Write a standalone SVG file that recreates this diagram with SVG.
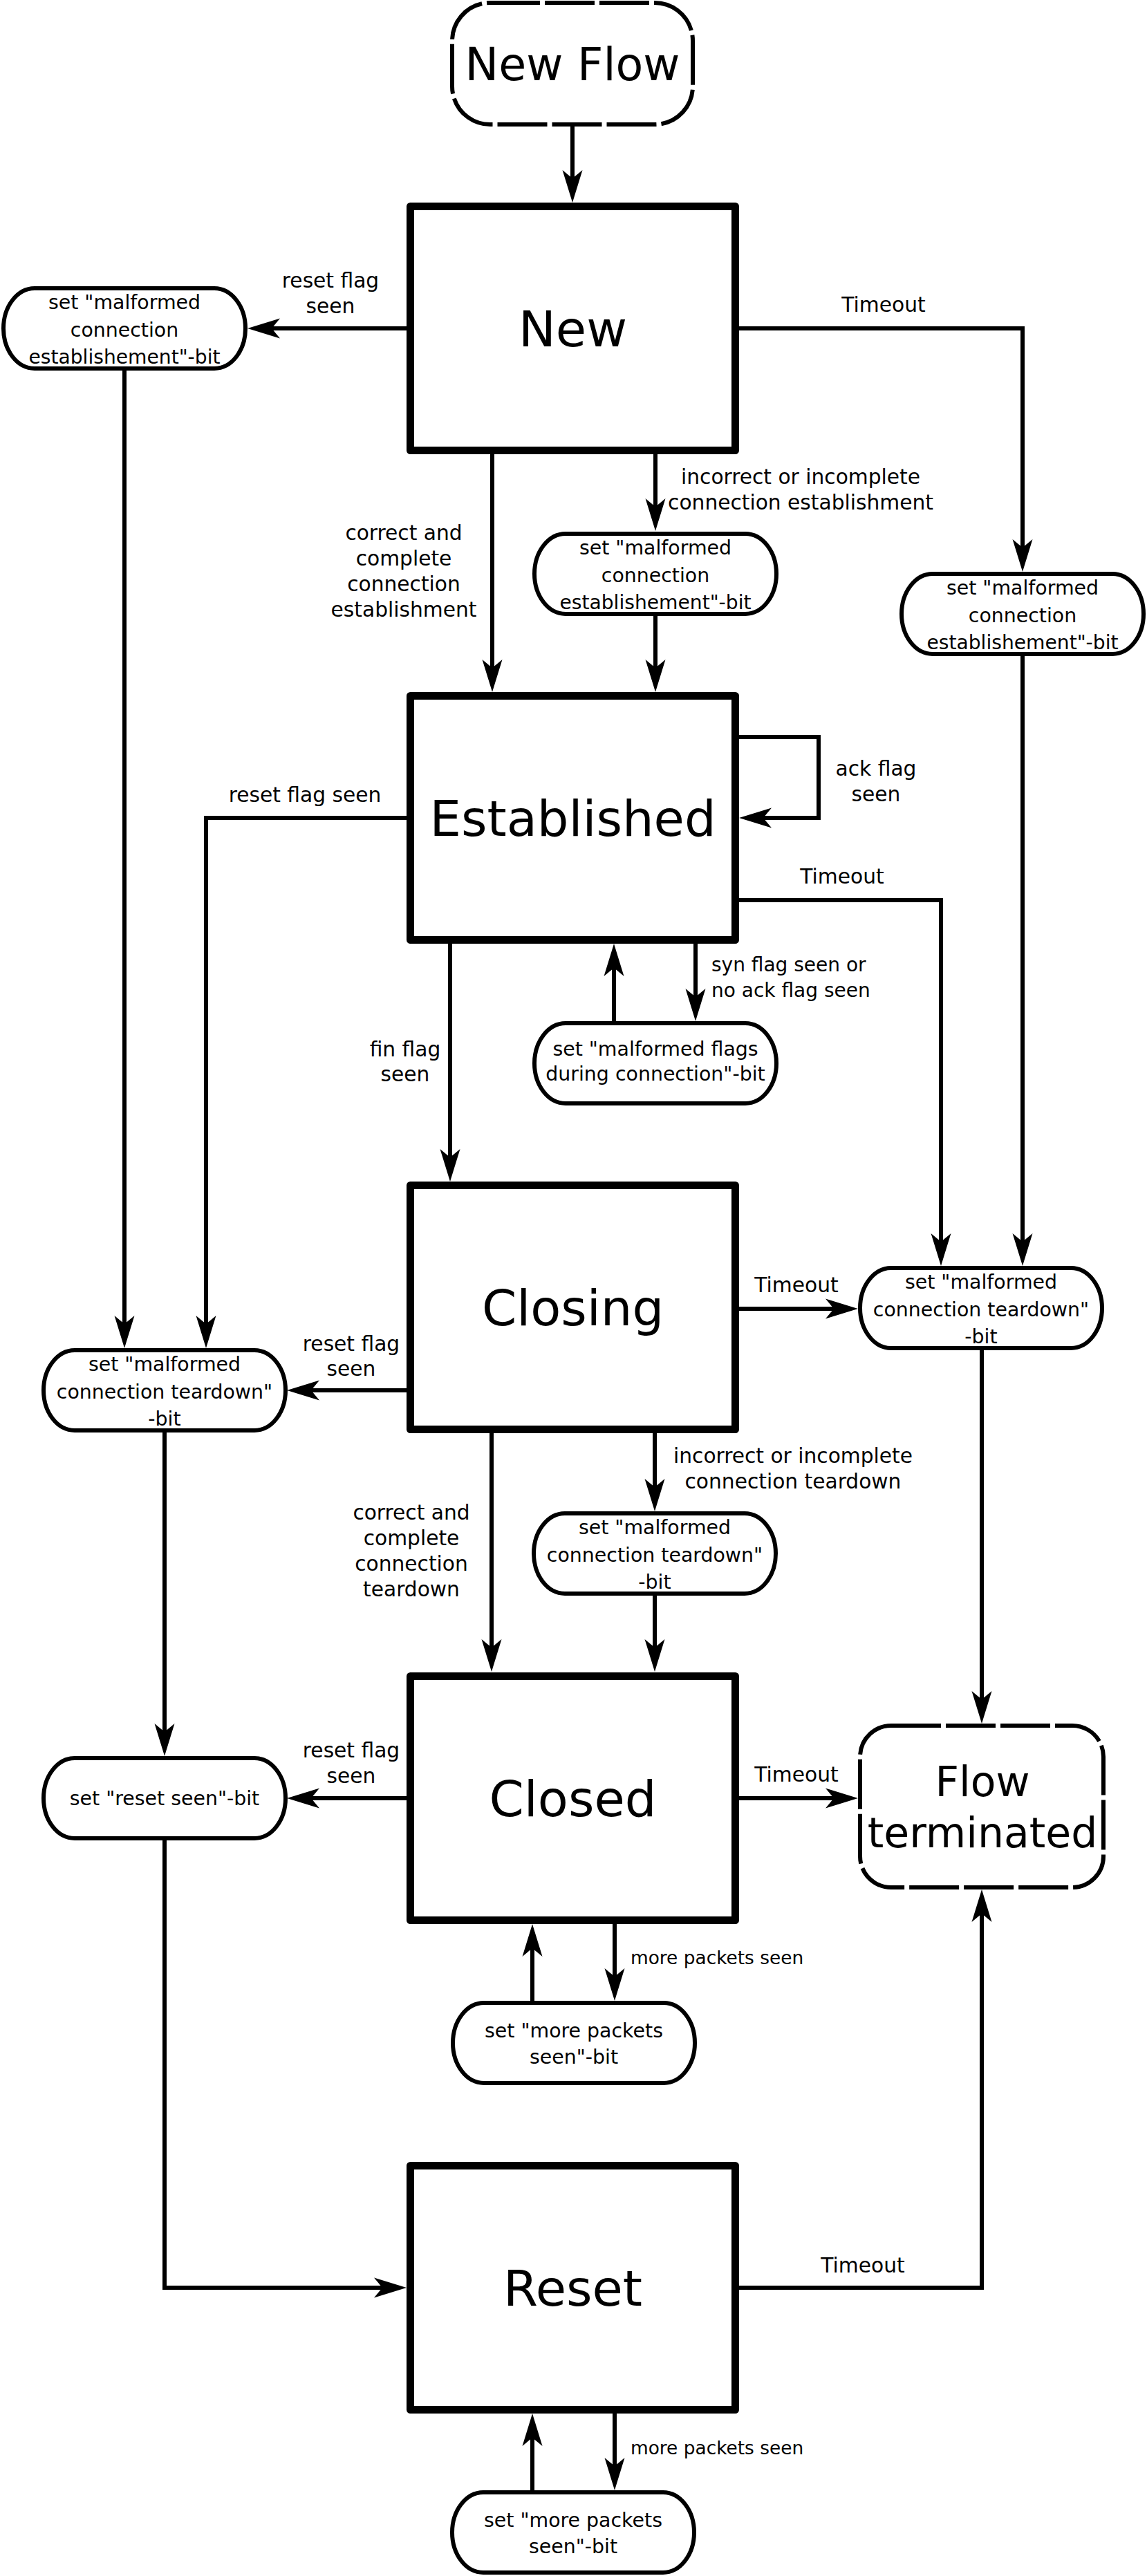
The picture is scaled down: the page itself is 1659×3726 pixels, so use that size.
<svg xmlns="http://www.w3.org/2000/svg" width="1659" height="3726" viewBox="0 0 1659 3726">
<style>
.st{fill:#fff;stroke:#000;stroke-width:11;stroke-linejoin:round}
.sn{fill:#fff;stroke:#000;stroke-width:6}
.term{fill:#fff;stroke:#000;stroke-width:6;stroke-dasharray:72 7}
.c{fill:none;stroke:#000;stroke-width:6;marker-end:url(#ah)}
.cn{fill:none;stroke:#000;stroke-width:6}
text{font-family:"DejaVu Sans","Liberation Sans",sans-serif;fill:#000}
.big{font-size:72px;text-anchor:middle}
.tn{text-anchor:middle}
.nt{font-size:28.4px;text-anchor:middle}
.lb{font-size:29.7px;text-anchor:middle}
.ls{font-size:28px}
.lm{font-size:26.4px}
</style>
<defs>
<marker id="ah" markerUnits="userSpaceOnUse" viewBox="0 -15 48 30" markerWidth="48" markerHeight="30" refX="12" refY="0" orient="auto">
<path d="M47,0 L0,-14.5 L12,0 L0,14.5 Z" fill="#000"/>
</marker>
</defs>
<rect width="1659" height="3726" fill="#fff"/>
<g id="connectors">
<path class="c" d="M828,180 V258"/>
<path class="c" d="M588,475 H393"/>
<path class="c" d="M1069,475 H1479 V792"/>
<path class="c" d="M712,657 V966"/>
<path class="c" d="M948,657 V733"/>
<path class="c" d="M948,890 V966"/>
<path class="c" d="M180,536 V1915"/>
<path class="c" d="M1069,1066 H1184 V1183 H1104"/>
<path class="c" d="M588,1183 H298 V1915"/>
<path class="c" d="M1069,1302 H1361 V1796"/>
<path class="c" d="M1479,949 V1796"/>
<path class="c" d="M651,1365 V1674"/>
<path class="c" d="M888,1477 V1400"/>
<path class="c" d="M1006,1365 V1442"/>
<path class="c" d="M1069,1893 H1206"/>
<path class="c" d="M588,2011 H450"/>
<path class="c" d="M711,2073 V2383"/>
<path class="c" d="M947,2073 V2151"/>
<path class="c" d="M947,2308 V2383"/>
<path class="c" d="M1420,1953 V2458"/>
<path class="c" d="M238,2072 V2505"/>
<path class="c" d="M588,2601 H450"/>
<path class="c" d="M1069,2601 H1206"/>
<path class="c" d="M770,2894 V2818"/>
<path class="c" d="M889,2783 V2859"/>
<path class="c" d="M238,2662 V3309 H553"/>
<path class="c" d="M1069,3309 H1420 V2768"/>
<path class="c" d="M770,3602 V3526"/>
<path class="c" d="M889,3491 V3567"/>
</g>
<g id="labels">
<text class="lb" x="478" y="416">reset flag</text>
<text class="lb" x="478" y="453">seen</text>
<text class="lb" x="1278" y="451">Timeout</text>
<text class="lb" x="1158" y="700">incorrect or incomplete</text>
<text class="lb" x="1158" y="737">connection establishment</text>
<text class="lb" x="584" y="781">correct and</text>
<text class="lb" x="584" y="818">complete</text>
<text class="lb" x="584" y="855">connection</text>
<text class="lb" x="584" y="892">establishment</text>
<text class="lb" x="1267" y="1122">ack flag</text>
<text class="lb" x="1267" y="1159">seen</text>
<text class="lb" x="441" y="1160">reset flag seen</text>
<text class="lb" x="1218" y="1278">Timeout</text>
<text class="ls" x="1029" y="1405">syn flag seen or</text>
<text class="ls" x="1029" y="1442">no ack flag seen</text>
<text class="lb" x="586" y="1528">fin flag</text>
<text class="lb" x="586" y="1564">seen</text>
<text class="lb" x="1152" y="1869">Timeout</text>
<text class="lb" x="508" y="1954">reset flag</text>
<text class="lb" x="508" y="1990">seen</text>
<text class="lb" x="1147" y="2116">incorrect or incomplete</text>
<text class="lb" x="1147" y="2153">connection teardown</text>
<text class="lb" x="595" y="2198">correct and</text>
<text class="lb" x="595" y="2235">complete</text>
<text class="lb" x="595" y="2272">connection</text>
<text class="lb" x="595" y="2309">teardown</text>
<text class="lb" x="508" y="2542">reset flag</text>
<text class="lb" x="508" y="2579">seen</text>
<text class="lb" x="1152" y="2577">Timeout</text>
<text class="lm" x="912" y="2841">more packets seen</text>
<text class="lb" x="1248" y="3287">Timeout</text>
<text class="lm" x="912" y="3550">more packets seen</text>
</g>
<g id="node-newflow">
<rect class="term" x="654" y="4" width="348" height="176" rx="55" ry="55"/>
<text class="tn" x="828" y="116" font-size="65">New Flow</text>
</g>
<g id="node-new">
<rect class="st" x="593.5" y="298.5" width="470" height="353"/>
<text class="big" x="828.5" y="501">New</text>
</g>
<g id="node-established">
<rect class="st" x="593.5" y="1006.5" width="470" height="353"/>
<text class="big" x="828.5" y="1209">Established</text>
</g>
<g id="node-closing">
<rect class="st" x="593.5" y="1714.5" width="470" height="353"/>
<text class="big" x="828.5" y="1917">Closing</text>
</g>
<g id="node-closed">
<rect class="st" x="593.5" y="2424.5" width="470" height="353"/>
<text class="big" x="828.5" y="2627">Closed</text>
</g>
<g id="node-reset">
<rect class="st" x="593.5" y="3132.5" width="470" height="353"/>
<text class="big" x="828.5" y="3335">Reset</text>
</g>
<g id="node-flowterminated">
<rect class="term" x="1244" y="2496" width="352" height="234" rx="45" ry="45"/>
<text class="tn" x="1421" y="2598" font-size="60">Flow</text>
<text class="tn" x="1421" y="2672" font-size="60">terminated</text>
</g>
<g id="node-mce-left">
<rect class="sn" x="5" y="417" width="350" height="116" rx="45" ry="58"/>
<text class="nt" x="180" y="447">set "malformed</text>
<text class="nt" x="180" y="487">connection</text>
<text class="nt" x="180" y="526" textLength="277" lengthAdjust="spacingAndGlyphs">establishement"-bit</text>
</g>
<g id="node-mce-mid">
<rect class="sn" x="773" y="772" width="350" height="116" rx="45" ry="58"/>
<text class="nt" x="948" y="802">set "malformed</text>
<text class="nt" x="948" y="842">connection</text>
<text class="nt" x="948" y="881" textLength="277" lengthAdjust="spacingAndGlyphs">establishement"-bit</text>
</g>
<g id="node-mce-right">
<rect class="sn" x="1304" y="830" width="350" height="116" rx="45" ry="58"/>
<text class="nt" x="1479" y="860">set "malformed</text>
<text class="nt" x="1479" y="900">connection</text>
<text class="nt" x="1479" y="939" textLength="277" lengthAdjust="spacingAndGlyphs">establishement"-bit</text>
</g>
<g id="node-mflags">
<rect class="sn" x="773" y="1480" width="350" height="116" rx="45" ry="58"/>
<text class="nt" x="948" y="1527">set "malformed flags</text>
<text class="nt" x="948" y="1563">during connection"-bit</text>
</g>
<g id="node-mct-right">
<rect class="sn" x="1244" y="1834" width="350" height="116" rx="45" ry="58"/>
<text class="nt" x="1419" y="1864">set "malformed</text>
<text class="nt" x="1419" y="1904">connection teardown"</text>
<text class="nt" x="1419" y="1943">-bit</text>
</g>
<g id="node-mct-left">
<rect class="sn" x="63" y="1953" width="350" height="116" rx="45" ry="58"/>
<text class="nt" x="238" y="1983">set "malformed</text>
<text class="nt" x="238" y="2023">connection teardown"</text>
<text class="nt" x="238" y="2062">-bit</text>
</g>
<g id="node-mct-mid">
<rect class="sn" x="772" y="2189" width="350" height="116" rx="45" ry="58"/>
<text class="nt" x="947" y="2219">set "malformed</text>
<text class="nt" x="947" y="2259">connection teardown"</text>
<text class="nt" x="947" y="2298">-bit</text>
</g>
<g id="node-resetseen">
<rect class="sn" x="63" y="2543" width="350" height="116" rx="45" ry="58"/>
<text class="nt" x="238" y="2611">set "reset seen"-bit</text>
</g>
<g id="node-morepackets-closed">
<rect class="sn" x="655" y="2897" width="350" height="116" rx="45" ry="58"/>
<text class="nt" x="830" y="2947">set "more packets</text>
<text class="nt" x="830" y="2985">seen"-bit</text>
</g>
<g id="node-morepackets-reset">
<rect class="sn" x="654" y="3605" width="350" height="116" rx="45" ry="58"/>
<text class="nt" x="829" y="3655">set "more packets</text>
<text class="nt" x="829" y="3693">seen"-bit</text>
</g>
</svg>
